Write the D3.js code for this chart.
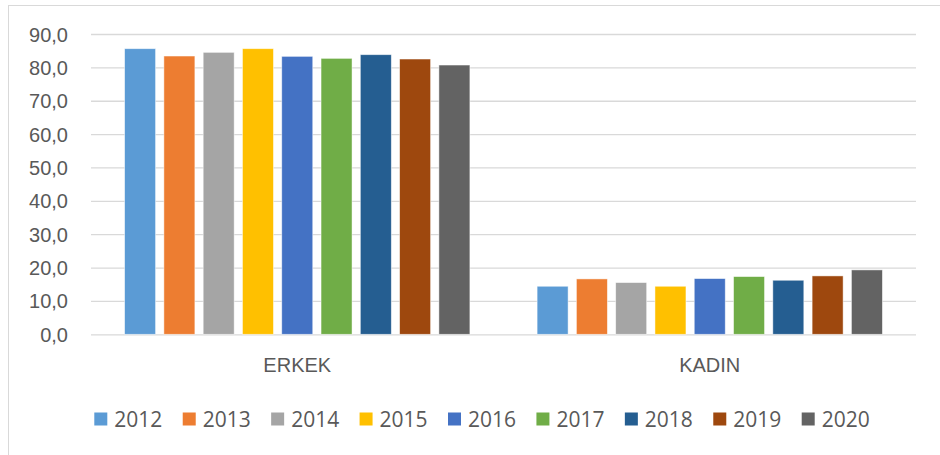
<!DOCTYPE html>
<html>
<head>
<meta charset="utf-8">
<script src="https://cdn.jsdelivr.net/npm/d3@7"></script>
<style>
  html, body { margin: 0; padding: 0; background: #fff; }
  svg { display: block; font-family: "Open Sans", "Noto Sans", sans-serif; }
</style>
</head>
<body>
<svg id="chart" width="940" height="455"></svg>
<script>
const categories = ["ERKEK", "KADIN"];
const years = ["2012", "2013", "2014", "2015", "2016", "2017", "2018", "2019", "2020"];
const erkekValues = [85.6, 83.4, 84.5, 85.6, 83.3, 82.7, 83.8, 82.5, 80.7];
const kadinValues = [14.4, 16.6, 15.5, 14.4, 16.7, 17.3, 16.2, 17.5, 19.3];
const colors = ["#5b9bd5", "#ed7d31", "#a5a5a5", "#ffc000", "#4472c4", "#70ad47", "#255e91", "#9e480e", "#636363"];
const yTicks = [0, 10, 20, 30, 40, 50, 60, 70, 80, 90];

const seriesByCat = { "ERKEK": erkekValues, "KADIN": kadinValues };

const svg = d3.select("#chart");
const textColor = "#595959";
const gridColor = "#d9d9d9";

// chart border
svg.append("rect")
  .attr("x", 8.5).attr("y", 5.5)
  .attr("width", 960).attr("height", 480)
  .attr("fill", "none").attr("stroke", gridColor).attr("stroke-width", 1);

const plot = { left: 91, right: 916, top: 34, bottom: 334.3 };

const y = d3.scaleLinear().domain([0, 90]).range([plot.bottom, plot.top]);
const x0 = d3.scaleBand().domain(categories).range([plot.left, plot.right]).padding(0);
const groupPad = 33.6;
const x1 = d3.scaleBand().domain(years)
  .range([groupPad, x0.bandwidth() - groupPad])
  .paddingInner(0.211).paddingOuter(0);

// gridlines
const yAxis = d3.axisLeft(y).tickValues(yTicks)
  .tickSize(-(plot.right - plot.left))
  .tickPadding(23)
  .tickFormat(d => d3.format(".1f")(d).replace(".", ","));

const gy = svg.append("g")
  .attr("transform", `translate(${plot.left},0)`)
  .call(yAxis);
gy.select(".domain").remove();
gy.selectAll(".tick line").attr("stroke", gridColor).attr("stroke-width", 1.3);
gy.selectAll(".tick text")
  .attr("fill", textColor)
  .attr("font-size", 20)
  .attr("dy", "0.35em");

// bars
const groups = svg.append("g").selectAll("g")
  .data(categories)
  .join("g")
  .attr("transform", d => `translate(${x0(d)},0)`);

groups.selectAll("rect")
  .data(c => seriesByCat[c].map((v, i) => ({ year: years[i], value: v, i })))
  .join("rect")
  .attr("x", d => x1(d.year))
  .attr("width", x1.bandwidth())
  .attr("y", d => y(d.value))
  .attr("height", d => y(0) - y(d.value))
  .attr("fill", d => colors[d.i])
  .attr("stroke", "#ffffff")
  .attr("stroke-opacity", 0.6)
  .attr("stroke-width", 0.8);

// x axis category labels
const xAxis = d3.axisBottom(x0).tickSize(0).tickPadding(24);
const gx = svg.append("g")
  .attr("transform", `translate(0,${plot.bottom})`)
  .call(xAxis);
gx.select(".domain").remove();
gx.selectAll(".tick text")
  .attr("fill", textColor)
  .attr("font-size", 20);

// legend
const legendX = d3.scalePoint().domain(years).range([94.3, 801.7]);
const legend = svg.append("g").selectAll("g")
  .data(years)
  .join("g")
  .attr("transform", d => `translate(${legendX(d)},412.5)`);
legend.append("rect")
  .attr("width", 13).attr("height", 13)
  .attr("fill", (d, i) => colors[i]);
legend.append("text")
  .attr("x", 20).attr("y", 14.3)
  .attr("fill", textColor)
  .attr("font-size", 21)
  .text(d => d);
</script>
</body>
</html>
